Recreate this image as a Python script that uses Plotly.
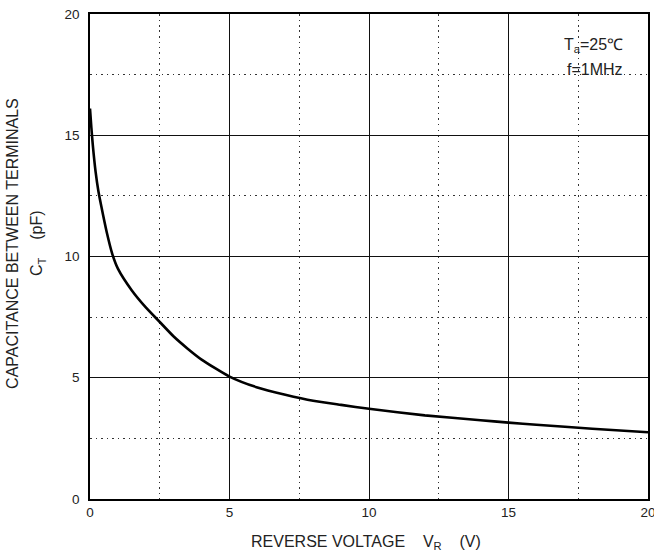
import plotly.graph_objects as go

voltage = [0, 0.05, 0.1, 0.2, 0.3, 0.4, 0.6, 0.8, 1.0, 1.5, 2.0, 2.5, 3.0, 3.5, 4.0, 5.0, 6.0, 7.0, 8.0, 9.0, 10.0, 12.0, 14.0, 15.0, 16.0, 18.0, 20.0]
capacitance = [16.1, 15.3, 14.6, 13.5, 12.7, 12.1, 11.0, 10.1, 9.5, 8.6, 7.9, 7.3, 6.7, 6.2, 5.75, 5.05, 4.6, 4.3, 4.05, 3.88, 3.72, 3.45, 3.25, 3.15, 3.06, 2.9, 2.75]

x_ticks = [0, 5, 10, 15, 20]
y_ticks = [0, 5, 10, 15, 20]

font = "Liberation Sans, Arial, sans-serif"
txt = "#222"

fig = go.Figure()
fig.add_trace(go.Scatter(x=voltage, y=capacitance, mode="lines",
                         line=dict(color="black", width=2.6, shape="spline", smoothing=0.6),
                         showlegend=False))

axis_common = dict(
    showline=True, linecolor="black", linewidth=1.5, mirror=True,
    showgrid=True, gridcolor="#111", gridwidth=1.3,
    ticks="", zeroline=False, automargin=False, ticklabeloverflow="allow",
    tickfont=dict(family=font, size=13.5, color=txt),
    minor=dict(dtick=2.5, showgrid=True, gridcolor="#333", gridwidth=1.2, griddash="1.5px,4px"),
)

fig.update_xaxes(range=[0, 20], tickvals=x_ticks, ticktext=[str(v) for v in x_ticks], **axis_common)
fig.update_yaxes(range=[0, 20], tickvals=y_ticks, ticktext=[str(v) for v in y_ticks],
                 ticklabelstandoff=6, **axis_common)

fig.update_layout(
    width=654, height=558,
    margin=dict(l=90, r=6, t=14, b=59),
    paper_bgcolor="white", plot_bgcolor="white",
    font=dict(family=font, color=txt),
    annotations=[
        dict(text="REVERSE VOLTAGE    V<sub>R</sub>    (V)", xref="paper", yref="paper",
             x=0.495, y=-0.089, xanchor="center", yanchor="middle", showarrow=False,
             font=dict(size=16, family=font, color=txt)),
        dict(text="CAPACITANCE BETWEEN TERMINALS", xref="paper", yref="paper",
             x=-0.138, y=0.528, xanchor="center", yanchor="middle", textangle=-90, showarrow=False,
             font=dict(size=16, family=font, color=txt)),
        dict(text="C<sub>T</sub>    (pF)", xref="paper", yref="paper",
             x=-0.093, y=0.528, xanchor="center", yanchor="middle", textangle=-90, showarrow=False,
             font=dict(size=16, family=font, color=txt)),
        dict(text="T<sub>a</sub>=25℃", xref="paper", yref="paper",
             x=0.959, y=0.936, xanchor="right", yanchor="middle", showarrow=False,
             font=dict(size=16, family=font, color=txt)),
        dict(text="f=1MHz", xref="paper", yref="paper",
             x=0.959, y=0.885, xanchor="right", yanchor="middle", showarrow=False,
             font=dict(size=16, family=font, color=txt)),
    ],
)

fig.write_html("out.html", config={"displayModeBar": False},
               post_script="document.body.style.margin='0';document.body.style.overflow='hidden';")
